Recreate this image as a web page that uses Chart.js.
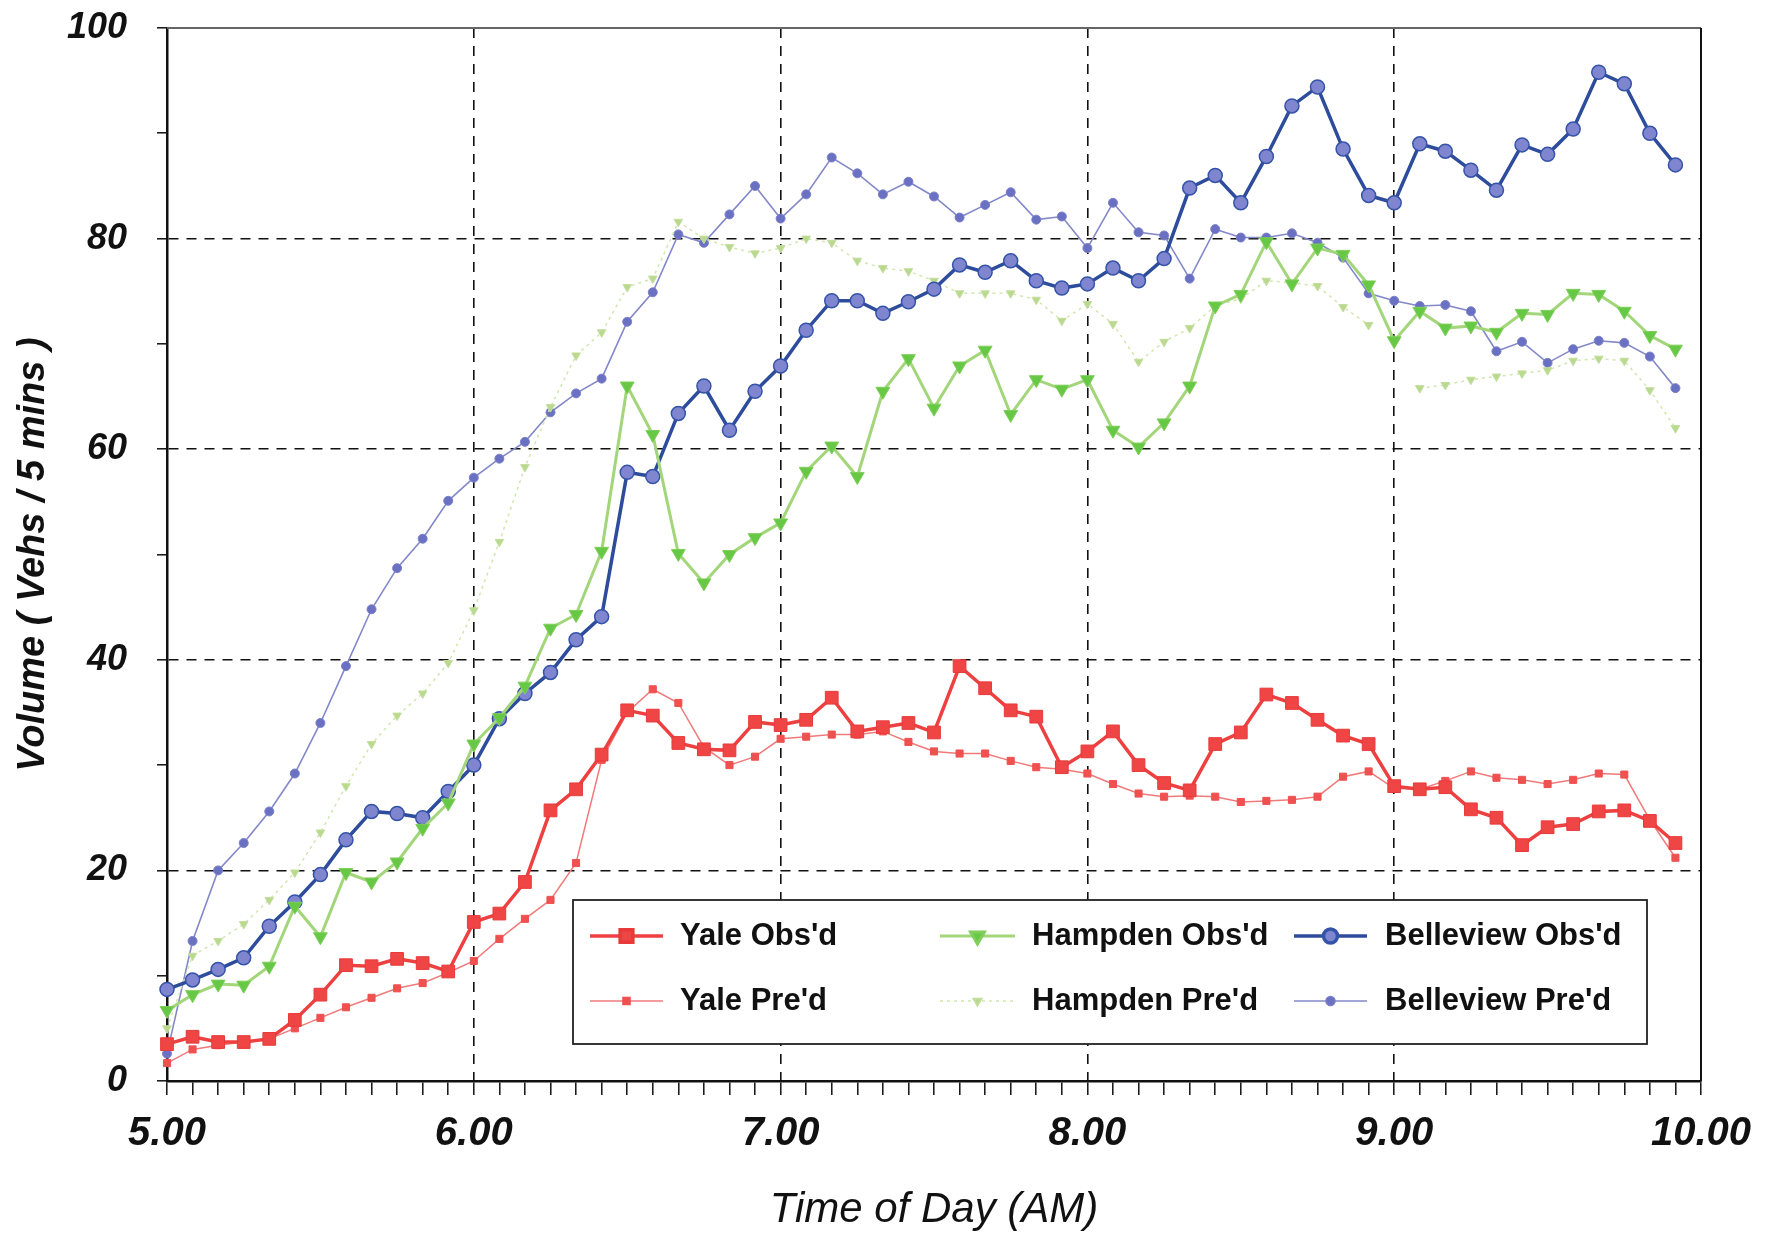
<!DOCTYPE html>
<html>
<head>
<meta charset="utf-8">
<title>Volume by Time of Day</title>
<script src="https://cdn.jsdelivr.net/npm/chart.js@4.4.1/dist/chart.umd.min.js"></script>
<style>
  html, body { margin: 0; padding: 0; background: #fff; }
  #wrap { width: 1769px; height: 1240px; }
</style>
</head>
<body>
<div id="wrap"><canvas id="volChart" width="1769" height="1240"></canvas></div>
<script>
// 5-minute time slots, 5:00 to 10:00 (last slot has no count)
const times = [
  '5:00','5:05','5:10','5:15','5:20','5:25','5:30','5:35','5:40','5:45','5:50','5:55',
  '6:00','6:05','6:10','6:15','6:20','6:25','6:30','6:35','6:40','6:45','6:50','6:55',
  '7:00','7:05','7:10','7:15','7:20','7:25','7:30','7:35','7:40','7:45','7:50','7:55',
  '8:00','8:05','8:10','8:15','8:20','8:25','8:30','8:35','8:40','8:45','8:50','8:55',
  '9:00','9:05','9:10','9:15','9:20','9:25','9:30','9:35','9:40','9:45','9:50','9:55',
  '10:00'
];

// volumes (vehs / 5 mins)
const yaleObs = [3.5, 4.2, 3.7, 3.7, 4.0, 5.8, 8.2, 11.0, 10.9, 11.6,
  11.2, 10.4, 15.1, 15.9, 18.9, 25.7, 27.7, 31.0, 35.2, 34.7,
  32.1, 31.5, 31.4, 34.1, 33.8, 34.3, 36.4, 33.2, 33.6, 34.0,
  33.1, 39.4, 37.3, 35.2, 34.6, 29.8, 31.3, 33.2, 30.0, 28.3,
  27.6, 32.0, 33.1, 36.7, 35.9, 34.3, 32.8, 32.0, 28.0, 27.7,
  27.9, 25.8, 25.0, 22.4, 24.1, 24.4, 25.6, 25.7, 24.7, 22.6];

const yalePred = [1.7, 3.0, 3.4, 3.7, 4.0, 5.0, 6.0, 7.0, 7.9, 8.8,
  9.3, 10.3, 11.4, 13.5, 15.4, 17.2, 20.7, 30.5, 35.0, 37.2,
  35.9, 31.7, 30.0, 30.8, 32.5, 32.7, 32.9, 32.9, 33.2, 32.2,
  31.3, 31.1, 31.1, 30.4, 29.8, 29.6, 29.2, 28.2, 27.3, 27.0,
  27.1, 27.0, 26.5, 26.6, 26.7, 27.0, 28.9, 29.4, 27.8, 27.7,
  28.5, 29.4, 28.8, 28.6, 28.2, 28.6, 29.2, 29.1, 24.8, 21.2];

const hampObs = [6.7, 8.2, 9.2, 9.1, 10.9, 16.6, 13.7, 19.8, 18.9, 20.8,
  24.0, 26.4, 32.0, 34.5, 37.5, 43.0, 44.3, 50.3, 66.0, 61.4,
  50.1, 47.3, 50.0, 51.6, 53.0, 57.9, 60.3, 57.4, 65.5, 68.6,
  63.9, 67.9, 69.4, 63.3, 66.6, 65.7, 66.6, 61.8, 60.2, 62.5,
  66.0, 73.6, 74.7, 79.7, 75.7, 79.1, 78.5, 75.6, 70.3, 73.1,
  71.5, 71.7, 71.1, 72.9, 72.8, 74.8, 74.7, 73.1, 70.8, 69.5];

const hampPred = [5.0, 11.9, 13.3, 14.9, 17.2, 19.8, 23.6, 28.0, 32.0, 34.7,
  36.8, 39.7, 44.7, 51.2, 58.3, 64.0, 68.9, 71.1, 75.4, 76.2,
  81.6, 80.0, 79.2, 78.6, 79.1, 80.0, 79.6, 77.9, 77.2, 76.9,
  76.0, 74.8, 74.8, 74.8, 74.2, 72.2, 73.8, 71.9, 68.3, 70.2,
  71.5, 73.6, 74.3, 76.0, 75.8, 75.5, 73.5, 71.8, null, 65.8,
  66.1, 66.6, 66.9, 67.2, 67.5, 68.4, 68.6, 68.4, 65.6, 62.0];

const belObs = [8.7, 9.6, 10.6, 11.7, 14.7, 17.0, 19.6, 22.9, 25.6, 25.4,
  25.0, 27.5, 30.0, 34.4, 36.8, 38.8, 41.9, 44.1, 57.8, 57.4,
  63.4, 66.0, 61.8, 65.5, 67.9, 71.3, 74.1, 74.1, 72.9, 74.0,
  75.2, 77.5, 76.8, 77.9, 76.0, 75.3, 75.7, 77.2, 76.0, 78.1,
  84.8, 86.0, 83.4, 87.8, 92.6, 94.4, 88.5, 84.1, 83.4, 89.0,
  88.3, 86.5, 84.6, 88.9, 88.0, 90.4, 95.8, 94.7, 90.0, 87.0];

const belPred = [2.6, 13.3, 20.0, 22.6, 25.6, 29.2, 34.0, 39.4, 44.8, 48.7,
  51.5, 55.1, 57.3, 59.1, 60.7, 63.5, 65.3, 66.7, 72.1, 74.9,
  80.4, 79.6, 82.3, 85.0, 81.9, 84.2, 87.7, 86.2, 84.2, 85.4,
  84.0, 82.0, 83.2, 84.4, 81.8, 82.1, 79.1, 83.4, 80.6, 80.3,
  76.2, 80.9, 80.1, 80.1, 80.5, 79.6, 78.2, 74.8, 74.1, 73.6,
  73.7, 73.1, 69.3, 70.2, 68.2, 69.5, 70.3, 70.1, 68.8, 65.8];

const FONT = "'Liberation Sans', Arial, Helvetica, sans-serif";

// legend box drawn inside the plot (legend order = row-major, 3 columns)
const legendBox = { left: 573, top: 900, right: 1647, bottom: 1044 };
const legendCols = [ { x1: 590, x2: 663, tx: 680 }, { x1: 940, x2: 1015, tx: 1032 }, { x1: 1294, x2: 1367, tx: 1385 } ];
const legendRows = [ 936, 1001 ];

const isHour = t => t && t.endsWith(':00');

const frameAndLegend = {
  id: 'frameAndLegend',
  afterDraw(chart) {
    const ctx = chart.ctx;
    const a = chart.chartArea;
    ctx.save();
    // top and right edges of the plot frame
    ctx.lineWidth = 2;
    ctx.strokeStyle = '#666';
    ctx.beginPath(); ctx.moveTo(a.left, a.top); ctx.lineTo(a.right, a.top); ctx.stroke();
    ctx.strokeStyle = '#111';
    ctx.beginPath(); ctx.moveTo(a.right, a.top); ctx.lineTo(a.right, a.bottom); ctx.stroke();

    // legend
    const b = legendBox;
    ctx.fillStyle = '#fff';
    ctx.fillRect(b.left, b.top, b.right - b.left, b.bottom - b.top);
    ctx.lineWidth = 1.8;
    ctx.strokeStyle = '#222';
    ctx.strokeRect(b.left, b.top, b.right - b.left, b.bottom - b.top);

    chart.data.datasets.forEach((ds, i) => {
      const col = legendCols[i % 3];
      const y = legendRows[Math.floor(i / 3)];
      ctx.save();
      ctx.strokeStyle = ds.borderColor;
      ctx.lineWidth = ds.borderWidth;
      ctx.setLineDash(ds.borderDash || []);
      ctx.beginPath(); ctx.moveTo(col.x1, y); ctx.lineTo(col.x2, y); ctx.stroke();
      ctx.setLineDash([]);
      ctx.fillStyle = ds.pointBackgroundColor;
      ctx.strokeStyle = ds.pointBorderColor;
      Chart.helpers.drawPoint(ctx, {
        pointStyle: ds.pointStyle,
        rotation: ds.pointRotation || 0,
        radius: ds.pointRadius,
        borderWidth: ds.pointBorderWidth
      }, (col.x1 + col.x2) / 2, y);
      ctx.restore();

      ctx.fillStyle = '#111';
      ctx.font = 'bold 31px ' + FONT;
      ctx.textAlign = 'left';
      ctx.textBaseline = 'middle';
      ctx.fillText(ds.label, col.tx, y);
    });
    ctx.restore();
  }
};

const ctx = document.getElementById('volChart').getContext('2d');

new Chart(ctx, {
  type: 'line',
  data: {
    labels: times,
    datasets: [
      { label: "Yale Obs'd", data: yaleObs, borderColor: '#ee4040', borderWidth: 3.5,
        pointStyle: 'rect', pointRadius: 9, pointBackgroundColor: '#f04545', pointBorderColor: '#e83a3a', pointBorderWidth: 1 },
      { label: "Hampden Obs'd", data: hampObs, borderColor: '#a3d67a', borderWidth: 3,
        pointStyle: 'triangle', pointRotation: 180, pointRadius: 8, pointBackgroundColor: '#66c845', pointBorderColor: '#7fcf5a', pointBorderWidth: 1 },
      { label: "Belleview Obs'd", data: belObs, borderColor: '#2d4c9c', borderWidth: 3.5,
        pointStyle: 'circle', pointRadius: 7, pointBackgroundColor: '#7f86cf', pointBorderColor: '#3553a8', pointBorderWidth: 1.5 },
      { label: "Yale Pre'd", data: yalePred, borderColor: '#f07a7a', borderWidth: 1.5,
        pointStyle: 'rect', pointRadius: 5, pointBackgroundColor: '#ef5050', pointBorderColor: '#ef5050', pointBorderWidth: 1 },
      { label: "Hampden Pre'd", data: hampPred, borderColor: '#d2e6b0', borderWidth: 1.5, borderDash: [3, 4],
        pointStyle: 'triangle', pointRotation: 180, pointRadius: 5, pointBackgroundColor: '#b9d98e', pointBorderColor: '#c4de9e', pointBorderWidth: 1 },
      { label: "Belleview Pre'd", data: belPred, borderColor: '#8388c8', borderWidth: 1.6,
        pointStyle: 'circle', pointRadius: 4.5, pointBackgroundColor: '#6a70c2', pointBorderColor: '#7a80c8', pointBorderWidth: 1 }
    ]
  },
  options: {
    responsive: false,
    animation: false,
    devicePixelRatio: 1,
    spanGaps: false,
    layout: { padding: { top: 28, right: 68, bottom: 0, left: 0 } },
    elements: { line: { tension: 0 } },
    plugins: { legend: { display: false }, tooltip: { enabled: false } },
    scales: {
      x: {
        type: 'category',
        offset: false,
        afterFit: s => { s.height = 159; },
        grid: {
          offset: false,
          color: c => (isHour(times[c.index]) && c.index > 0 && c.index < times.length - 1) ? '#111' : 'rgba(0,0,0,0)',
          tickColor: '#111',
          lineWidth: 1.6,
          tickLength: 14,
          tickWidth: 1.5
        },
        border: { display: true, color: '#111', width: 2.5, dash: [10, 8] },
        ticks: {
          autoSkip: false,
          maxRotation: 0,
          padding: 15,
          color: '#111',
          font: { family: FONT, size: 40, style: 'italic', weight: 'bold' },
          callback: (v, i) => isHour(times[i]) ? times[i].replace(':', '.') : ''
        },
        title: {
          display: true,
          text: 'Time of Day (AM)',
          color: '#111',
          padding: { top: 0, bottom: 4 },
          font: { family: FONT, size: 42, style: 'italic', weight: 'normal' }
        }
      },
      y: {
        min: 0,
        max: 100,
        afterFit: s => { s.width = 167; s.paddingTop = 0; s.paddingBottom = 0; },
        grid: {
          color: c => (c.tick && c.tick.value % 20 === 0 && c.tick.value > 0 && c.tick.value < 100) ? '#111' : 'rgba(0,0,0,0)',
          tickColor: '#111',
          lineWidth: 1.6,
          tickLength: 10,
          tickWidth: 1.5
        },
        border: { display: true, color: '#111', width: 2.5, dash: [10, 8] },
        ticks: {
          stepSize: 10,
          padding: 30,
          color: '#111',
          font: { family: FONT, size: 36, style: 'italic', weight: 'bold' },
          callback: v => (v % 20 === 0 ? String(v) : '')
        },
        title: {
          display: true,
          text: 'Volume ( Vehs / 5 mins )',
          color: '#111',
          padding: { top: 11, bottom: 0 },
          font: { family: FONT, size: 38, style: 'italic', weight: 'bold' }
        }
      }
    }
  },
  plugins: [frameAndLegend]
});
</script>
</body>
</html>
